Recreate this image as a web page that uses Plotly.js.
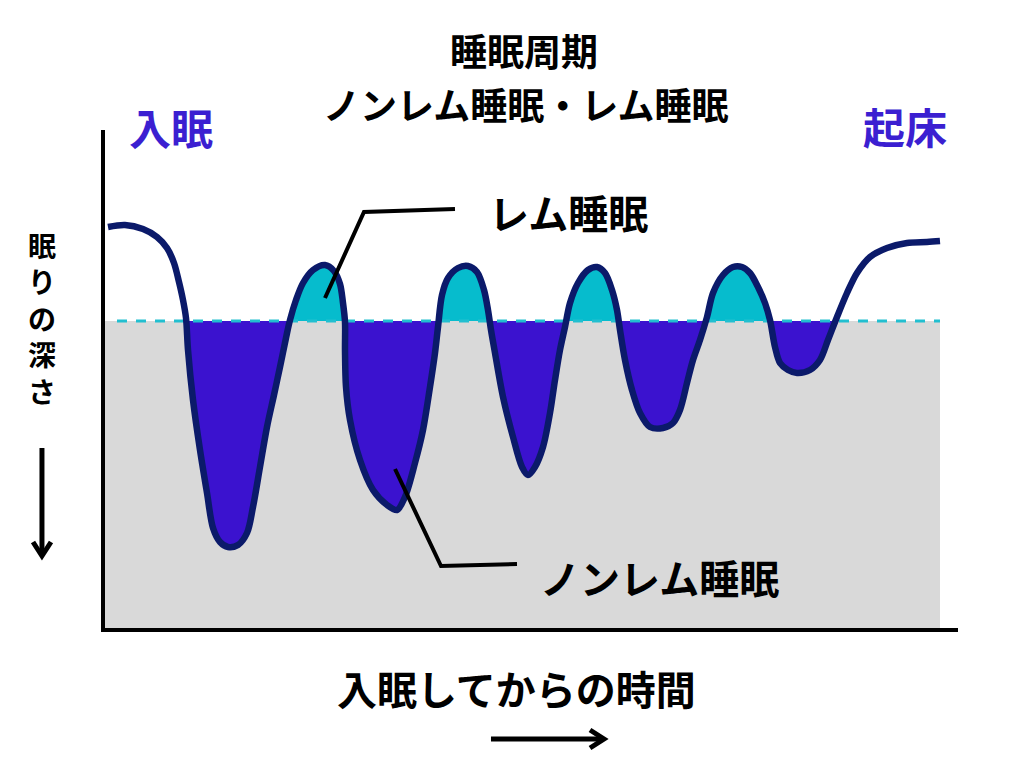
<!DOCTYPE html>
<html><head><meta charset="utf-8">
<script src="https://cdn.plot.ly/plotly-3.0.1.min.js"></script>
<style>html,body{margin:0;padding:0;background:#fff}</style>
</head><body><div id="chart" style="width:1024px;height:768px"></div>
<script>
// time since falling asleep (hours)
const hours = [0.03,0.20,0.38,0.52,0.62,0.69,0.74,0.78,0.81,0.83,0.88,0.95,1.02,1.08,1.15,1.23,1.33,1.42,1.48,1.55,1.62,1.69,1.75,1.81,1.85,1.91,1.98,2.08,2.20,2.29,2.35,2.38,2.40,2.40,2.41,2.45,2.55,2.68,2.82,2.92,3.00,3.10,3.18,3.25,3.30,3.33,3.37,3.43,3.53,3.63,3.72,3.79,3.83,3.86,3.90,3.98,4.08,4.17,4.23,4.30,4.38,4.45,4.50,4.55,4.60,4.65,4.73,4.83,4.92,5.00,5.07,5.12,5.15,5.20,5.27,5.35,5.45,5.58,5.68,5.75,5.82,5.88,5.95,6.02,6.08,6.18,6.28,6.37,6.45,6.53,6.60,6.65,6.70,6.75,6.83,6.92,7.05,7.15,7.23,7.32,7.42,7.52,7.65,7.82,8.02,8.22,8.35];
// sleep depth (0 = REM / non-REM boundary, positive = deeper)
const depth = [-1.88,-1.92,-1.84,-1.68,-1.46,-1.16,-0.78,-0.42,-0.06,0.58,1.58,2.58,3.44,4.14,4.42,4.52,4.48,4.24,3.72,2.92,2.12,1.48,0.92,0.34,-0.02,-0.42,-0.76,-1.02,-1.12,-1.00,-0.74,-0.36,0.02,0.58,1.32,1.98,2.78,3.38,3.68,3.78,3.52,2.84,2.18,1.32,0.64,0.12,-0.52,-0.86,-1.06,-1.10,-0.98,-0.62,-0.22,0.18,0.64,1.52,2.32,2.92,3.08,2.92,2.52,1.84,1.18,0.58,0.12,-0.36,-0.76,-1.02,-1.08,-0.96,-0.62,-0.22,0.18,0.78,1.38,1.84,2.12,2.14,2.04,1.78,1.24,0.78,0.38,-0.08,-0.56,-0.92,-1.08,-1.08,-0.96,-0.68,-0.36,-0.02,0.52,0.84,0.98,1.04,0.98,0.78,0.38,-0.08,-0.56,-0.96,-1.28,-1.46,-1.56,-1.58,-1.60];

const titleLines = ['睡眠周期', 'ノンレム睡眠・レム睡眠'];
const startLabel = '入眠';
const endLabel = '起床';
const remLabel = 'レム睡眠';
const nremLabel = 'ノンレム睡眠';
const xLabel = '入眠してからの時間';
const yLabelChars = ['眠', 'り', 'の', '深', 'さ'];

const W = 1024, H = 768;
const M = {l: 105, r: 66, t: 130, b: 140};
const PW = W - M.l - M.r, PH = H - M.t - M.b;
const xRange = [0, 8.53];
const yTop = -3.82, yBottom = 6.14;
const f = yBottom / (yBottom - yTop);

const NAVY = '#0b1a6a', PURPLE = '#3b12cf', CYAN = '#06bccd', GRAY = '#d9d9d9', BLUE = '#3b1fd1';
const FONT = '"Noto Sans CJK JP", "Noto Sans", sans-serif';

const px = x => (x - M.l) / PW;
const py = y => (H - M.b - y) / PH;
const P = (x, y) => px(x).toFixed(4) + ',' + py(y).toFixed(4);

const tEnd = hours[hours.length - 1];
// REM humps only occur between the first and last non-REM phases
const firstDeep = depth.findIndex(d => d > 0);
let lastDeep = depth.length - 1;
while (lastDeep > 0 && !(depth[lastDeep] > 0)) lastDeep--;
const remHours = hours.slice(firstDeep, lastDeep + 1);
const remDepth = depth.slice(firstDeep, lastDeep + 1);

const traces = [
  {x: [0, tEnd, tEnd, 0, 0], y: [0, 0, yBottom, yBottom, 0], xaxis: 'x', yaxis: 'y',
   mode: 'lines', fill: 'toself', fillcolor: GRAY, line: {width: 0}, hoverinfo: 'skip'},
  {x: hours, y: depth, xaxis: 'x', yaxis: 'y', mode: 'lines', fill: 'tozeroy',
   fillcolor: PURPLE, line: {width: 0, shape: 'spline', smoothing: 0.9}, hoverinfo: 'skip'},
  {x: remHours, y: remDepth, xaxis: 'x', yaxis: 'y2', mode: 'lines', fill: 'tozeroy',
   fillcolor: CYAN, line: {width: 0, shape: 'spline', smoothing: 0.9}, hoverinfo: 'skip'},
  {x: [0.12, tEnd], y: [0, 0], xaxis: 'x', yaxis: 'y3', mode: 'lines',
   line: {color: '#22bfd0', width: 3, dash: '10px,9px'}, hoverinfo: 'skip'},
  {x: hours, y: depth, xaxis: 'x', yaxis: 'y3', mode: 'lines',
   line: {color: NAVY, width: 6.5, shape: 'spline', smoothing: 0.9}, hoverinfo: 'skip'}
];

function ann(text, x, y, size, color, extra) {
  return Object.assign({text: '<b>' + text + '</b>', xref: 'paper', yref: 'paper', x: px(x), y: py(y),
    xanchor: 'center', yanchor: 'middle', showarrow: false,
    font: {family: FONT, size: size, color: color || '#000'}}, extra || {});
}

const annotations = [
  ann(titleLines[0], 524, 50, 37),
  ann(titleLines[1], 526, 104, 37),
  ann(startLabel, 171, 127, 42, BLUE),
  ann(endLabel, 905, 125, 42, BLUE),
  ann(remLabel, 568, 212, 40),
  ann(nremLabel, 659, 577, 40),
  ann(xLabel, 516, 688, 40),
  ann(yLabelChars.join('<br>'), 42, 318, 28)
];

function path(d, w) {
  return {type: 'path', xref: 'paper', yref: 'paper', path: d,
    line: {color: '#000', width: w || 4}, fillcolor: 'rgba(0,0,0,0)'};
}
const shapes = [
  path('M' + P(325, 298) + ' L' + P(364, 212) + ' L' + P(455, 209)),
  path('M' + P(395, 469) + ' L' + P(441, 566) + ' L' + P(517, 564)),
  path('M' + P(42, 448) + ' L' + P(42, 555), 5),
  path('M' + P(33, 542) + ' L' + P(42, 556) + ' L' + P(51, 542), 5),
  path('M' + P(491, 739) + ' L' + P(603, 739), 5),
  path('M' + P(590, 730) + ' L' + P(604, 739) + ' L' + P(590, 748), 5)
];

const hidden = {showgrid: false, zeroline: false, showticklabels: false, ticks: '', showline: false};
const layout = {
  width: W, height: H, margin: M, paper_bgcolor: '#fff', plot_bgcolor: 'rgba(0,0,0,0)',
  showlegend: false,
  xaxis: Object.assign({}, hidden, {range: xRange, showline: true, linecolor: '#000', linewidth: 4, anchor: 'y3'}),
  yaxis: Object.assign({}, hidden, {domain: [0, f], range: [yBottom, 0], anchor: 'x'}),
  yaxis2: Object.assign({}, hidden, {domain: [f, 1], range: [0, yTop], anchor: 'x'}),
  yaxis3: Object.assign({}, hidden, {domain: [0, 1], range: [yBottom, yTop], anchor: 'x',
    showline: true, linecolor: '#000', linewidth: 4}),
  annotations: annotations,
  shapes: shapes
};

Plotly.newPlot('chart', traces, layout, {staticPlot: true, displayModeBar: false});
</script>
</body></html>
